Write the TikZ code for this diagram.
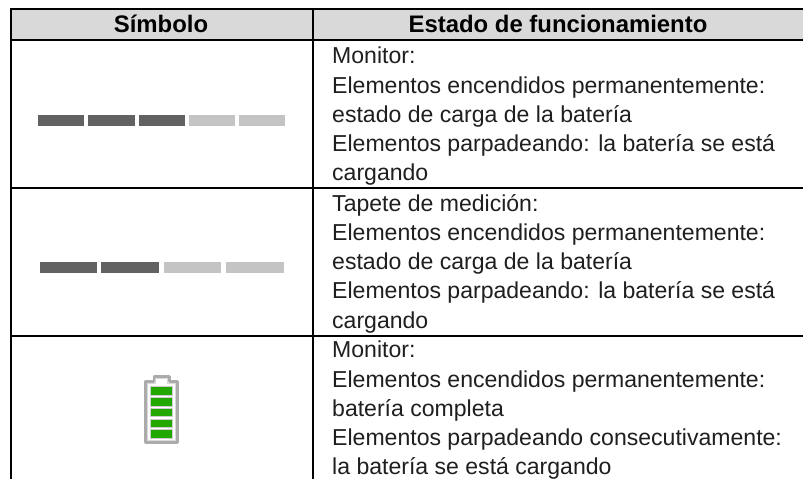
\documentclass[tikz,border=0pt]{standalone}
\usepackage{fontspec}
\setmainfont{Liberation Sans}
\tikzset{
  x=1pt,y=-1pt,
  headtext/.style={font=\fontsize{23.9}{26}\selectfont\bfseries,inner sep=0pt,anchor=base},
  bodytext/.style={font=\fontsize{23.05}{29.25}\selectfont,text=black!88,inner sep=0pt,anchor=north west,align=left},
  rule/.style={line width=2pt,draw=black},
  dark/.style={fill=bardark,draw=none},
  light/.style={fill=barlight,draw=none},
  cellgreen/.style={fill=batgreen,draw=batline!60,line width=.4pt},
}
\definecolor{headgray}{HTML}{D9D9D9}
\definecolor{bardark}{HTML}{626262}
\definecolor{barlight}{HTML}{C4C4C4}
\definecolor{batgreen}{HTML}{22A800}
\definecolor{batline}{HTML}{ABABAB}
\begin{document}
\begin{tikzpicture}
\useasboundingbox (0,0) rectangle (803,479);
\fill[white] (0,0) rectangle (803,479);
\fill[headgray] (11,9) rectangle (803,40);
\node[headtext] (h1) at (161,32) {Símbolo};
\node[headtext] (h2) at (558,32) {Estado de funcionamiento};
\node[bodytext] (r1) at (332,47) {Monitor:\\Elementos encendidos permanentemente:\\estado de carga de la batería\\Elementos parpadeando: la batería se está\\cargando};
\node[bodytext] (r2) at (332,194) {Tapete de medición:\\Elementos encendidos permanentemente:\\estado de carga de la batería\\Elementos parpadeando: la batería se está\\cargando};
\node[bodytext] (r3) at (332,341) {Monitor:\\Elementos encendidos permanentemente:\\batería completa\\Elementos parpadeando consecutivamente:\\la batería se está cargando};
% table rules
\draw[rule] (803,9) -- (11,9) -- (11,479);
\draw[rule] (313,9) -- (313,479);
\draw[rule,line width=1.6pt] (11,40) -- (803,40);
\draw[rule] (11,187.5) -- (803,187.5);
\draw[rule] (11,336) -- (803,336);
% row 1 bars
\fill[dark] (38,114.5) rectangle (84,125.5);
\fill[dark] (88,114.5) rectangle (134.5,125.5);
\fill[dark] (138.5,114.5) rectangle (184.5,125.5);
\fill[light] (188.5,114.5) rectangle (234.5,125.5);
\fill[light] (239,114.5) rectangle (285,125.5);
% row 2 bars
\fill[dark] (40,261.7) rectangle (96.5,273.3);
\fill[dark] (100.5,261.7) rectangle (159,273.3);
\fill[light] (163.5,261.7) rectangle (221,273.3);
\fill[light] (225.5,261.7) rectangle (284,273.3);
% battery
\draw[draw=batline,line width=2.4pt,line join=round,fill=white]
  (145.5,381.5) -- (154,381.5) -- (154,376.5) -- (169.5,376.5) -- (169.5,381.5) -- (177.5,381.5) -- (177.5,442.5) -- (145.5,442.5) -- cycle;
\draw[draw=batline!45,line width=.8pt,line join=round]
  (147.3,383.2) -- (155.7,383.2) -- (155.7,378.2) -- (167.8,378.2) -- (167.8,383.2) -- (175.7,383.2) -- (175.7,440.8) -- (147.3,440.8) -- cycle;
\filldraw[cellgreen] (150.5,386.4) rectangle (172.5,395);
\filldraw[cellgreen] (150.5,397.2) rectangle (172.5,405.8);
\filldraw[cellgreen] (150.5,408) rectangle (172.5,416.6);
\filldraw[cellgreen] (150.5,418.7) rectangle (172.5,427.3);
\filldraw[cellgreen] (150.5,429.4) rectangle (172.5,438);
\end{tikzpicture}
\end{document}
